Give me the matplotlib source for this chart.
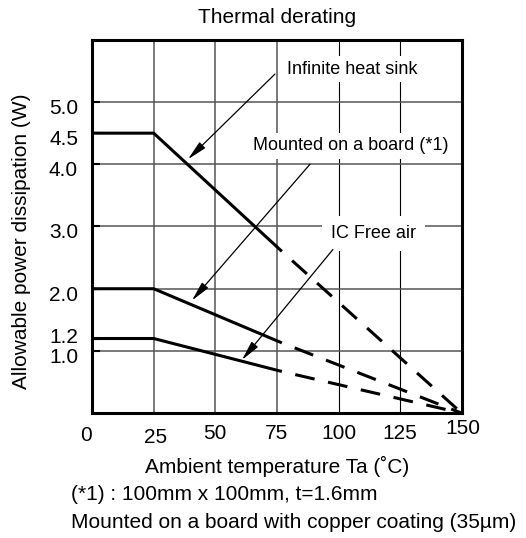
import matplotlib
matplotlib.use('Agg')
from matplotlib import pyplot as plt
from matplotlib.transforms import blended_transform_factory, offset_copy

plt.rcParams['font.family'] = ['Liberation Sans', 'DejaVu Sans']

# data
temps = [0, 25, 77, 150]
infiniteSink = [4.5, 4.5, 2.6, 0.0]
boardMount = [2.0, 2.0, 1.13, 0.0]
freeAir = [1.2, 1.2, 0.67, 0.0]
xTicks = [0, 25, 50, 75, 100, 125, 150]
yTicks = [1.0, 1.2, 2.0, 3.0, 4.0, 4.5, 5.0]
xGrid = [25, 50, 75, 100, 125]
yGrid = [1, 2, 3, 4, 5]

# label nudges in pixels, as in the original drawing
xLabelShift = {0: (-6, -22), 25: (2, -24), 150: (1, -15)}
yLabelShift = {1.2: 1}

font_size = 15

fig = plt.figure(figsize=(5.26, 5.38), dpi=100)
ax = fig.add_axes([0.175, 0.232, 0.703, 0.694])

for x in xGrid:
    ax.axvline(x, color='#555555' if x <= 75 else 'black', lw=1.1 if x <= 75 else 0.8, zorder=1)
for y in yGrid:
    ax.axhline(y, color='#555555', lw=1.1, zorder=1)

for series in (infiniteSink, boardMount, freeAir):
    ax.plot(temps[:3], series[:3], color='black', lw=2.2, solid_capstyle='butt', zorder=3)
    # start the dashed part with a gap so the break shows
    ax.plot(temps[2:], series[2:], color='black', lw=2.2, linestyle=(6.5, (6.5, 4.5)), zorder=3)

arrow = dict(arrowstyle='-|>,head_length=1.2,head_width=0.25', color='black', lw=0.9,
             shrinkA=0, shrinkB=0)
box = dict(boxstyle='square,pad=0.25', fc='white', ec='none')
ann_size = 13

ax.annotate('', xy=(38.9, 4.08), xytext=(74.2, 5.45), arrowprops=arrow, zorder=4)
ax.text(79, 5.53, 'Infinite heat sink', fontsize=ann_size, va='center', ha='left',
        bbox=box, zorder=2)

ax.annotate('', xy=(40.5, 1.81), xytext=(88.4, 4.0), arrowprops=arrow, zorder=4)
ax.text(105, 4.3, 'Mounted on a board (*1)', fontsize=ann_size, va='center',
        ha='center', bbox=box, zorder=2)

ax.annotate('', xy=(60.8, 0.855), xytext=(97.7, 2.63), arrowprops=arrow, zorder=4)
ax.text(114, 2.88, 'IC Free air', fontsize=ann_size, va='center', ha='center',
        bbox=dict(boxstyle='square,pad=0.5', fc='white', ec='none'), zorder=2)

ax.set_xlim(0, 150)
ax.set_ylim(0, 6)
ax.set_xticks(xTicks)
ax.set_yticks(yTicks)
ax.set_xticklabels([])
ax.set_yticklabels([])
ax.tick_params(axis='x', length=0)
ax.tick_params(axis='y', direction='in', length=6, width=1.5)
for spine in ax.spines.values():
    spine.set_linewidth(2.2)

# tick labels drawn by hand so each one can sit where the original has it
xTrans = blended_transform_factory(ax.transData, ax.transAxes)
for v in xTicks:
    dx, dy = xLabelShift.get(v, (0, -20))
    ax.text(v, 0, str(v), fontsize=font_size, ha='center', va='center',
            transform=offset_copy(xTrans, fig, x=dx, y=dy, units='dots'))
yTrans = blended_transform_factory(ax.transAxes, ax.transData)
for v in yTicks:
    dy = yLabelShift.get(v, -6.5)
    ax.text(0, v, '%.1f' % v, fontsize=font_size, ha='right', va='center',
            transform=offset_copy(yTrans, fig, x=-14, y=dy, units='dots'))

ax.set_title('Thermal derating', fontsize=font_size, pad=12)
ax.set_xlabel('Ambient temperature Ta (˚C)', fontsize=font_size)
ax.set_ylabel('Allowable power dissipation (W)', fontsize=font_size)
ax.xaxis.set_label_coords(0.5, -0.115)
ax.yaxis.set_label_coords(-0.165, 0.46)

fig.text(71 / 526, 1 - 495 / 538, '(*1) : 100mm x 100mm, t=1.6mm', fontsize=font_size,
         va='center', ha='left')
fig.text(71 / 526, 1 - 523 / 538, 'Mounted on a board with copper coating (35µm)',
         fontsize=font_size, va='center', ha='left')

fig.savefig('out.png', dpi=100)
